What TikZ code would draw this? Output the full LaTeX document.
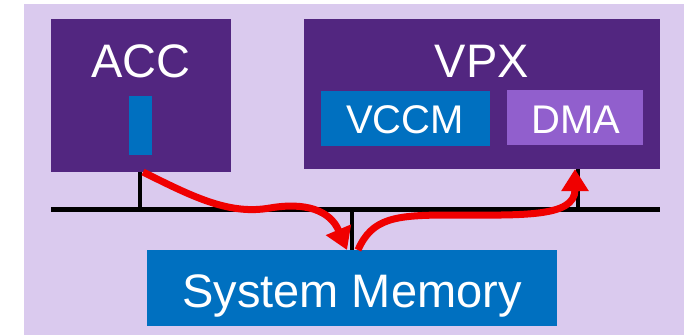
\documentclass[tikz,border=0pt]{standalone}
\usepackage{fontspec}
\setmainfont{Liberation Sans}
\usetikzlibrary{arrows.meta}
\definecolor{BoardClr}{RGB}{218,202,238}
\definecolor{ChipClr}{RGB}{82,38,128}
\definecolor{MemClr}{RGB}{0,112,192}
\definecolor{DmaClr}{RGB}{145,95,205}
\definecolor{FlowClr}{RGB}{240,0,0}

\begin{document}
\begin{tikzpicture}[x=1pt,y=-1pt,
  box/.style={inner sep=0pt,outer sep=0pt,anchor=north west},
  txt/.style={text=white,inner sep=0pt,anchor=base,font=\fontsize{47pt}{50pt}\selectfont},
  smalltxt/.style={txt,font=\fontsize{40pt}{44pt}\selectfont},
  bus/.style={line width=5pt,black},
  stub/.style={line width=4.5pt,black},
  flow/.style={line width=7pt,FlowClr,-{Triangle[width=26pt,length=22pt]}}]

\useasboundingbox (0,0) rectangle (690,335);
\fill[BoardClr] (24,4) rectangle (684,335);

\node[box,fill=ChipClr,minimum width=180pt,minimum height=153pt] (acc) at (51,19) {};
\node[box,fill=MemClr,minimum width=23pt,minimum height=59pt] (port) at (129,96) {};
\node[txt] (acclbl) at (141,77) {ACC};

\node[box,fill=ChipClr,minimum width=356pt,minimum height=150pt] (vpx) at (304,19) {};
\node[txt] (vpxlbl) at (482,77) {VPX};
\node[box,fill=MemClr,minimum width=169pt,minimum height=55pt] (vccm) at (321,91) {};
\node[smalltxt] at (405,133) {VCCM};
\node[box,fill=DmaClr,minimum width=136pt,minimum height=55pt] (dma) at (507,90) {};
\node[smalltxt] at (576,133) {DMA};

\node[box,fill=MemClr,minimum width=410pt,minimum height=76pt] (mem) at (147,250) {};
\node[txt] (memlbl) at (352,307) {System Memory};

\coordinate (busl) at (51,209);
\coordinate (busr) at (660,209);
\coordinate (acctap) at (140,209);
\coordinate (memtap) at (352,209);
\coordinate (vpxtap) at (578,209);

\draw[bus] (busl) -- (busr);
\draw[stub] (acctap) -- (acctap |- acc.south);
\draw[stub] (memtap) -- (mem.north);
\draw[stub] (vpxtap) -- (vpxtap |- vpx.south);

\draw[flow] ([xshift=2pt]acc.south) .. controls (195,198) and (230,215) .. (270,208)
  .. controls (305,202) and (330,210) .. ([xshift=-5pt]mem.north);
\draw[flow] ([xshift=6pt]mem.north) .. controls (372,218) and (395,215) .. (450,215)
  .. controls (520,215) and (575,218) .. ([xshift=-3pt]vpxtap |- vpx.south);

\end{tikzpicture}
\end{document}
